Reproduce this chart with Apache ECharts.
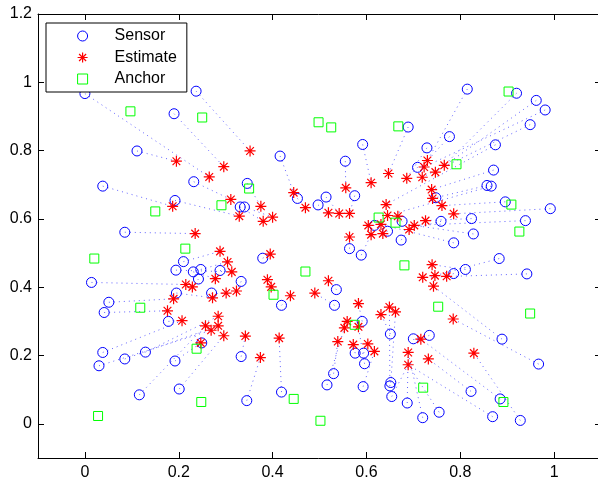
<!DOCTYPE html>
<html>
<head>
<meta charset="utf-8">
<script src="https://cdn.jsdelivr.net/npm/echarts@6/dist/echarts.min.js"></script>
<style>
  html, body { margin: 0; padding: 0; background: #fff; }
  #chart { width: 598px; height: 485px; }
</style>
</head>
<body>
<div id="chart"></div>
<script>
// True sensor positions
const sensors = [
  [0.000,0.967],[0.237,0.974],[0.190,0.908],[0.111,0.799],[0.232,0.709],
  [0.038,0.696],[0.192,0.654],[0.331,0.635],[0.340,0.635],[0.085,0.561],
  [0.346,0.704],[0.210,0.475],[0.689,0.869],[0.592,0.818],[0.416,0.784],
  [0.555,0.769],[0.709,0.751],[0.453,0.660],[0.514,0.664],[0.497,0.641],
  [0.575,0.668],[0.617,0.581],[0.645,0.564],[0.676,0.593],[0.674,0.538],
  [0.564,0.513],[0.589,0.494],[0.379,0.485],[0.815,0.980],[0.920,0.968],
  [0.962,0.947],[0.981,0.919],[0.949,0.876],[0.777,0.841],[0.875,0.817],
  [0.729,0.808],[0.871,0.743],[0.857,0.698],[0.866,0.696],[0.748,0.662],
  [0.896,0.650],[0.992,0.630],[0.824,0.601],[0.939,0.595],[0.759,0.593],
  [0.828,0.556],[0.786,0.530],[0.883,0.484],[0.014,0.414],[0.051,0.356],
  [0.041,0.326],[0.194,0.450],[0.231,0.445],[0.247,0.452],[0.242,0.424],
  [0.288,0.449],[0.333,0.417],[0.195,0.383],[0.270,0.383],[0.178,0.300],
  [0.249,0.237],[0.038,0.209],[0.030,0.170],[0.085,0.190],[0.129,0.210],
  [0.192,0.184],[0.333,0.197],[0.201,0.102],[0.116,0.085],[0.345,0.068],
  [0.536,0.393],[0.419,0.347],[0.532,0.347],[0.591,0.300],[0.651,0.263],
  [0.700,0.249],[0.576,0.207],[0.594,0.207],[0.596,0.176],[0.530,0.147],
  [0.516,0.114],[0.593,0.109],[0.652,0.121],[0.650,0.111],[0.654,0.080],
  [0.687,0.061],[0.419,0.093],[0.786,0.440],[0.811,0.452],[0.942,0.439],
  [0.889,0.248],[0.734,0.259],[0.967,0.175],[0.823,0.095],[0.885,0.073],
  [0.755,0.034],[0.720,0.018],[0.869,0.021],[0.928,0.010]
];

// Estimated positions
const estimates = [
  [0.195,0.769],[0.296,0.753],[0.265,0.723],[0.311,0.657],[0.329,0.608],
  [0.187,0.637],[0.235,0.557],[0.288,0.505],[0.304,0.474],[0.352,0.799],
  [0.445,0.677],[0.470,0.633],[0.519,0.618],[0.542,0.616],[0.564,0.616],
  [0.556,0.691],[0.610,0.706],[0.647,0.733],[0.686,0.719],[0.642,0.642],
  [0.645,0.610],[0.667,0.608],[0.604,0.581],[0.631,0.584],[0.610,0.554],
  [0.635,0.557],[0.691,0.569],[0.564,0.547],[0.375,0.637],[0.400,0.605],
  [0.380,0.593],[0.395,0.497],[0.730,0.771],[0.723,0.752],[0.766,0.757],
  [0.747,0.737],[0.719,0.722],[0.739,0.686],[0.741,0.660],[0.761,0.639],
  [0.786,0.615],[0.726,0.595],[0.702,0.581],[0.313,0.445],[0.278,0.425],
  [0.215,0.408],[0.229,0.401],[0.189,0.366],[0.272,0.369],[0.301,0.383],
  [0.323,0.389],[0.176,0.331],[0.207,0.302],[0.284,0.315],[0.257,0.287],
  [0.269,0.274],[0.284,0.287],[0.296,0.258],[0.247,0.237],[0.342,0.257],
  [0.389,0.422],[0.397,0.401],[0.438,0.375],[0.490,0.383],[0.519,0.419],
  [0.583,0.352],[0.631,0.320],[0.649,0.342],[0.662,0.328],[0.559,0.300],
  [0.553,0.281],[0.583,0.284],[0.539,0.241],[0.572,0.232],[0.603,0.234],
  [0.617,0.212],[0.689,0.209],[0.689,0.173],[0.414,0.251],[0.374,0.194],
  [0.740,0.466],[0.720,0.429],[0.746,0.434],[0.771,0.432],[0.743,0.403],
  [0.785,0.307],[0.716,0.248],[0.829,0.207],[0.732,0.190]
];

// For each sensor, the (1-based) estimate it is linked to
const estimateOf = [
  3,10,2,1,4, 6,5,31,30,7, 29,8,18,17,11, 16,19,12,14,13,
  15,23,26,22,27, 28,25,32,33,35, 36,34,37,33,20, 19,38,39,21,39,
  40,41,42,43,27, 43,24,83,46,48, 52,44,45,9,47, 44,51,49,50,53,
  59,53,56,57,54, 59,60,58,55,80, 65,63,64,66,67, 87,74,75,72,73,
  71,76,69,68,78, 77,79,84,81,82, 85,87,86,89,87, 78,77,78,88
];

// Anchor nodes
const anchors = [
  [0.097,0.915],[0.250,0.897],[0.150,0.622],[0.291,0.640],[0.214,0.513],
  [0.020,0.484],[0.118,0.340],[0.238,0.220],[0.248,0.064],[0.028,0.023],
  [0.350,0.689],[0.498,0.883],[0.525,0.868],[0.668,0.871],[0.626,0.604],
  [0.662,0.589],[0.903,0.973],[0.792,0.760],[0.909,0.642],[0.926,0.563],
  [0.470,0.446],[0.402,0.378],[0.681,0.464],[0.575,0.290],[0.445,0.073],
  [0.502,0.009],[0.753,0.343],[0.949,0.323],[0.721,0.106],[0.892,0.064]
];

const xTicks = [0, 0.2, 0.4, 0.6, 0.8, 1];
const yTicks = [0, 0.2, 0.4, 0.6, 0.8, 1, 1.2];

const links = sensors.map((s, i) => ({ coords: [s, estimates[estimateOf[i] - 1]] }));

// asterisk marker: plus and cross overlaid
const asterisk = 'path://M5 0L5 10M0 5L10 5M1.5 1.5L8.5 8.5M1.5 8.5L8.5 1.5';

const fontFamily = '"Liberation Sans", Arial, Helvetica, sans-serif';
const axisColor = '#000';

function makeAxis(kind, position, ticks, withLabels) {
  const isX = kind === 'x';
  return {
    type: 'value',
    position: position,
    min: -0.1,
    max: isX ? 1.1 : 1.2,
    axisLine: { show: true, onZero: false, lineStyle: { color: axisColor, width: 1 } },
    axisTick: { show: true, inside: true, length: 6, customValues: ticks, lineStyle: { color: axisColor, width: 1 } },
    axisLabel: withLabels
      ? { show: true, customValues: ticks, margin: isX ? 7 : 6, color: '#000', fontSize: 16, fontFamily: fontFamily }
      : { show: false },
    splitLine: { show: false }
  };
}

const chart = echarts.init(document.getElementById('chart'), null, { renderer: 'canvas' });
chart.setOption({
  animation: false,
  backgroundColor: '#fff',
  grid: { left: 38, top: 14, width: 563, height: 444, containLabel: false, outerBoundsMode: 'none' },
  xAxis: [makeAxis('x', 'bottom', xTicks, true), makeAxis('x', 'top', xTicks, false)],
  yAxis: [makeAxis('y', 'left', yTicks, true), makeAxis('y', 'right', yTicks, false)],
  legend: {
    left: 46, top: 23,
    orient: 'vertical',
    data: [
      { name: 'Sensor', itemStyle: { borderWidth: 1 } },
      { name: 'Estimate', itemStyle: { borderWidth: 1.2 } },
      { name: 'Anchor', itemStyle: { borderWidth: 1 } }
    ],
    backgroundColor: '#fff',
    borderColor: '#000', borderWidth: 1, borderRadius: 0,
    padding: [4, 10, 4, 31],
    itemWidth: 10, itemHeight: 10, itemGap: 3.5,
    selectedMode: false,
    textStyle: { fontFamily: fontFamily, fontSize: 16, color: '#000', lineHeight: 18, padding: [0, 0, 0, 22] }
  },
  series: [
    {
      type: 'lines', coordinateSystem: 'cartesian2d', xAxisIndex: 0, yAxisIndex: 0,
      data: links, silent: true, z: 1,
      lineStyle: { color: '#3030ff', width: 1, type: [1, 4], opacity: 0.75 }
    },
    {
      name: 'Sensor', type: 'scatter', data: sensors, symbol: 'circle', symbolSize: 10,
      silent: true, z: 3,
      itemStyle: { color: 'rgba(0,0,0,0)', borderColor: '#0000ff', borderWidth: 1, opacity: 1 }
    },
    {
      name: 'Estimate', type: 'scatter', data: estimates, symbol: asterisk, symbolSize: 11,
      symbolKeepAspect: true, silent: true, z: 4,
      itemStyle: { color: 'rgba(0,0,0,0)', borderColor: '#ff0000', borderWidth: 1.2, opacity: 1 }
    },
    {
      name: 'Anchor', type: 'scatter', data: anchors, symbol: 'rect', symbolSize: 9,
      silent: true, z: 5,
      itemStyle: { color: 'rgba(0,0,0,0)', borderColor: '#00ff00', borderWidth: 1, opacity: 1 }
    }
  ]
});
</script>
</body>
</html>
